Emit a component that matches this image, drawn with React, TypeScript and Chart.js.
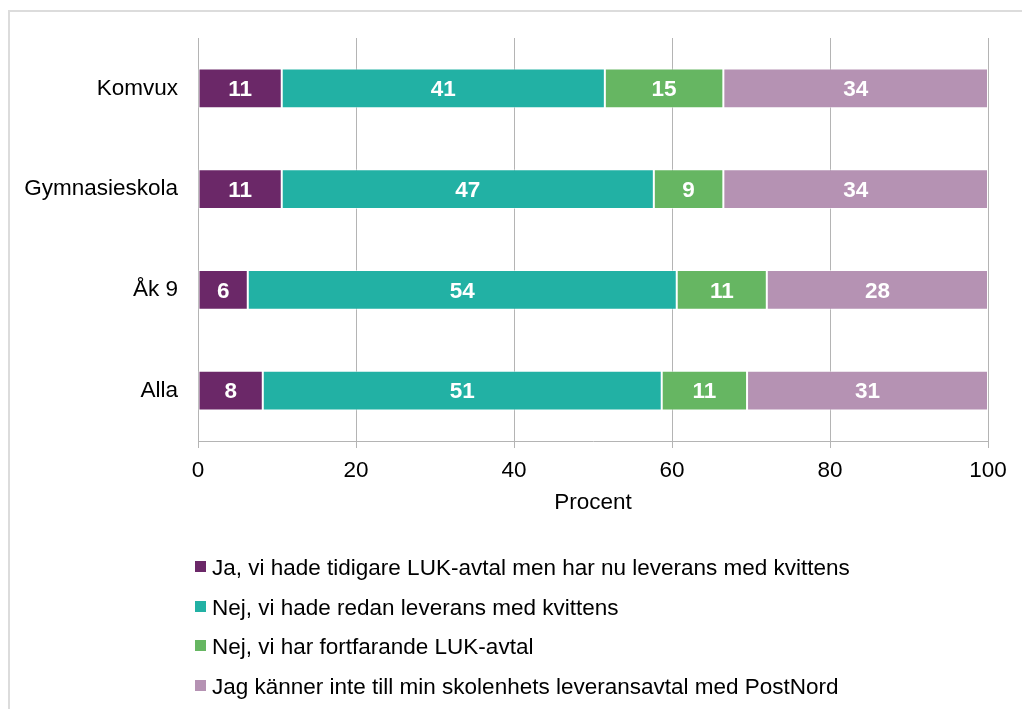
import React, { useEffect, useRef } from "react";
import { Chart, registerables } from "chart.js";

Chart.register(...registerables);

const categories = ["Komvux", "Gymnasieskola", "Åk 9", "Alla"];
const seriesNames = [
  "Ja, vi hade tidigare LUK-avtal men har nu leverans med kvittens",
  "Nej, vi hade redan leverans med kvittens",
  "Nej, vi har fortfarande LUK-avtal",
  "Jag känner inte till min skolenhets leveransavtal med PostNord",
];
const seriesJa = [10.6, 10.6, 6.3, 8.2];
const seriesNejRedan = [40.9, 47.1, 54.3, 50.5];
const seriesNejFortfarande = [15.0, 8.8, 11.4, 10.8];
const seriesVetEj = [33.5, 33.5, 28.0, 30.5];
const seriesColors = ["#6B2868", "#22B1A4", "#66B662", "#B592B3"];
const xTickStep = 20;
const xTitle = "Procent";

const FONT = "'Liberation Sans', Arial, Helvetica, sans-serif";
const FS = 22.5;

const frameAndLabels = {
  id: "frameAndLabels",
  beforeDraw(chart: any) {
    const ctx = chart.ctx;
    ctx.save();
    ctx.strokeStyle = "#dcdcdc";
    ctx.lineWidth = 2;
    ctx.beginPath();
    ctx.moveTo(9, chart.height);
    ctx.lineTo(9, 11);
    ctx.lineTo(chart.width, 11);
    ctx.stroke();
    ctx.restore();
  },
  afterDatasetsDraw(chart: any) {
    const ctx = chart.ctx;
    ctx.save();
    ctx.font = `bold ${FS}px ${FONT}`;
    ctx.fillStyle = "#ffffff";
    ctx.textAlign = "center";
    ctx.textBaseline = "middle";
    chart.data.datasets.forEach((ds: any, di: number) => {
      const meta = chart.getDatasetMeta(di);
      meta.data.forEach((bar: any, i: number) => {
        const v = ds.data[i];
        const cx = (bar.x + bar.base) / 2;
        ctx.fillText(String(Math.round(v)), cx, bar.y + 1.5);
      });
    });
    ctx.restore();
  },
  afterDraw(chart: any) {
    const ctx = chart.ctx;
    ctx.save();
    ctx.font = `${FS}px ${FONT}`;
    ctx.textAlign = "left";
    ctx.textBaseline = "middle";
    const top0 = 561;
    const step = 39.67;
    chart.data.datasets.forEach((ds: any, di: number) => {
      const y = top0 + di * step;
      ctx.fillStyle = ds.backgroundColor;
      ctx.fillRect(195, Math.round(y), 11, 11);
      ctx.fillStyle = "#000000";
      ctx.fillText(ds.label, 212, Math.round(y) + 7.5);
    });
    ctx.restore();
  },
};

export default function App() {
  const ref = useRef<HTMLCanvasElement>(null);

  useEffect(() => {
    if (!ref.current) return;
    const values = [seriesJa, seriesNejRedan, seriesNejFortfarande, seriesVetEj];
    const chart = new Chart(ref.current, {
      type: "bar",
      data: {
        labels: categories,
        datasets: values.map((d, i) => ({
          label: seriesNames[i],
          data: d,
          backgroundColor: seriesColors[i],
          borderColor: "rgba(255,255,255,0.55)",
          borderWidth: 1,
          borderSkipped: false,
          categoryPercentage: 1,
          barPercentage: 0.395,
        })),
      },
      options: {
        indexAxis: "y",
        responsive: false,
        animation: false,
        events: [],
        layout: { padding: { top: 38, right: 34, left: 0, bottom: 0 } },
        plugins: {
          legend: { display: false },
          tooltip: { enabled: false },
        },
        scales: {
          x: {
            stacked: true,
            min: 0,
            max: 100,
            ticks: {
              stepSize: xTickStep,
              color: "#000000",
              font: { family: FONT, size: FS },
              padding: 9,
            },
            grid: { color: "#b4b4b4", lineWidth: 1, tickLength: 7, drawTicks: true },
            border: { display: true, color: "#b4b4b4" },
            title: {
              display: true,
              text: xTitle,
              color: "#000000",
              font: { family: FONT, size: FS },
              padding: { top: 0, bottom: 193 },
            },
            afterFit: (scale: any) => {
              scale.height = 709 - 441;
            },
          },
          y: {
            stacked: true,
            grid: { display: false },
            border: { display: true, color: "#b4b4b4" },
            ticks: {
              color: "#000000",
              font: { family: FONT, size: FS },
              padding: 12,
            },
            afterFit: (scale: any) => {
              scale.width = 198;
            },
          },
        },
      },
      plugins: [frameAndLabels],
    });
    return () => chart.destroy();
  }, []);

  return (
    <div style={{ position: "absolute", left: 0, top: 0, width: 1022, height: 709, background: "#ffffff" }}>
      <canvas ref={ref} width={1022} height={709} style={{ display: "block" }} />
    </div>
  );
}
